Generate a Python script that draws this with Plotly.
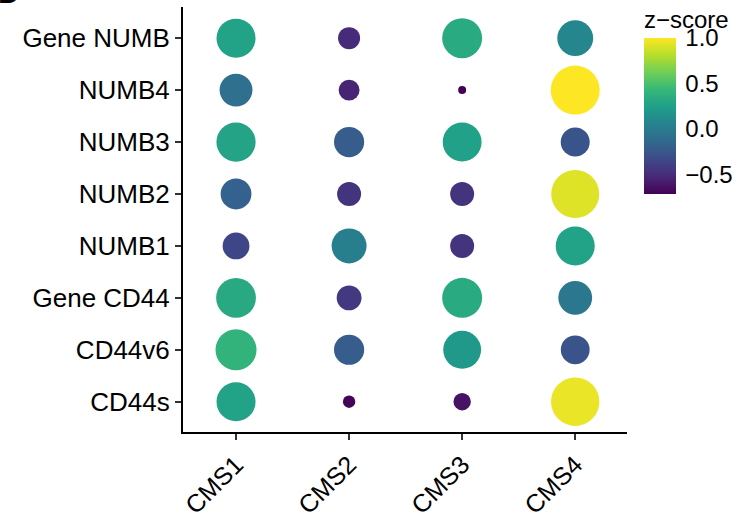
import numpy as np
import plotly.graph_objects as go

# Consensus molecular subtypes (columns) and features (rows, top to bottom)
groups = ["CMS1", "CMS2", "CMS3", "CMS4"]
features = ["Gene NUMB", "NUMB4", "NUMB3", "NUMB2", "NUMB1",
            "Gene CD44", "CD44v6", "CD44s"]

# Mean z-score per feature and subtype
z_gene_numb = [0.27, -0.51, 0.33, 0.08]
z_numb4 = [-0.08, -0.54, -0.71, 1.00]
z_numb3 = [0.28, -0.21, 0.26, -0.26]
z_numb2 = [-0.18, -0.45, -0.45, 0.92]
z_numb1 = [-0.35, 0.03, -0.45, 0.27]
z_gene_cd44 = [0.32, -0.42, 0.33, -0.03]
z_cd44v6 = [0.40, -0.21, 0.20, -0.27]
z_cd44s = [0.27, -0.69, -0.62, 0.95]

rows = [z_gene_numb, z_numb4, z_numb3, z_numb2, z_numb1,
        z_gene_cd44, z_cd44v6, z_cd44s]

xs, ys, vals = [], [], []
for feat, row in zip(features, rows):
    for g, v in zip(groups, row):
        xs.append(g)
        ys.append(feat)
        vals.append(v)
vals = np.array(vals)

vmin, vmax = vals.min(), vals.max()
# area-proportional size scale (diameter grows with sqrt of rescaled value)
d_min, d_max = 8.0, 49.0
sizes = d_min + (d_max - d_min) * np.sqrt((vals - vmin) / (vmax - vmin))

W, H = 749, 517
ml, mr, mt, mb = 183, 122, 7, 85
FONT = "Liberation Sans, Arial, Helvetica, sans-serif"

fig = go.Figure(go.Scatter(
    x=xs, y=ys, mode="markers",
    marker=dict(
        size=sizes, sizemode="diameter",
        color=vals, colorscale="Viridis", cmin=vmin, cmax=vmax,
        line=dict(width=0), opacity=1,
        showscale=True,
        colorbar=dict(
            title=dict(text="z\u2212score", side="top",
                       font=dict(size=24, color="black", family=FONT)),
            xref="container", x=644 / W, xanchor="left",
            yref="container", y=1 - 7 / H, yanchor="top",
            len=188, lenmode="pixels",
            thickness=32, thicknessmode="pixels",
            outlinewidth=0, xpad=0, ypad=0,
            tickvals=[-0.5, 0.0, 0.5, 1.0],
            ticktext=["\u22120.5", "0.0", "0.5", "1.0"],
            ticks="outside", ticklen=5, tickwidth=1, tickcolor="white",
            tickfont=dict(size=24, color="black", family=FONT),
        ),
    ),
    hoverinfo="skip",
))

axis_common = dict(
    type="category", showgrid=False, zeroline=False,
    showline=True, linecolor="black", linewidth=2,
    ticks="outside", ticklen=6, tickwidth=1.5, tickcolor="#333333",
    automargin=False, fixedrange=True,
)

fig.update_layout(
    template="none",
    width=W, height=H, autosize=False,
    margin=dict(l=ml, r=mr, t=mt, b=mb, pad=0),
    paper_bgcolor="white", plot_bgcolor="white",
    font=dict(family=FONT, color="black"),
    showlegend=False,
    xaxis=dict(axis_common, categoryorder="array", categoryarray=groups,
               range=[-0.469, 3.458], tickangle=-45,
               tickfont=dict(size=25, color="black", family=FONT)),
    yaxis=dict(axis_common, categoryorder="array",
               categoryarray=features[::-1], range=[-0.583, 7.60],
               tickfont=dict(size=26, color="black", family=FONT)),
    annotations=[dict(
        text="<b>D</b>", xref="paper", yref="paper",
        x=(-4 - ml) / (W - ml - mr), y=1 + (mt - 11) / (H - mt - mb),
        xanchor="left", yanchor="bottom", showarrow=False,
        font=dict(size=30, color="black", family=FONT),
    )],
)

fig.write_html("out.html")
